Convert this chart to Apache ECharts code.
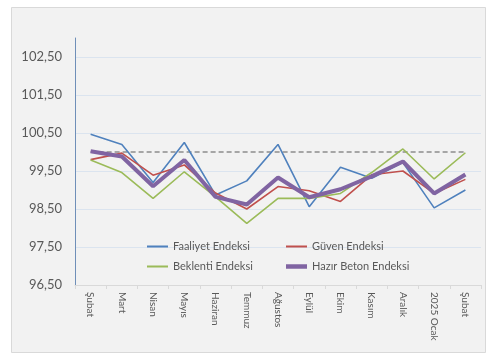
<!DOCTYPE html>
<html><head><meta charset="utf-8">
<script src="https://cdn.jsdelivr.net/npm/echarts@6/dist/echarts.min.js"></script>
<style>html,body{margin:0;padding:0;background:#fff}#c{width:500px;height:361px}</style>
</head><body><div id="c"></div>
<script>
var categories = ['Şubat','Mart','Nisan','Mayıs','Haziran','Temmuz','Ağustos','Eylül','Ekim','Kasım','Aralık','2025 Ocak','Şubat'];
var faaliyet = [100.47,100.20,99.20,100.25,98.87,99.24,100.20,98.56,99.60,99.31,99.72,98.53,99.00];
var guven    = [99.80,99.97,99.39,99.66,98.92,98.50,99.09,98.98,98.70,99.40,99.50,98.91,99.28];
var beklenti = [99.79,99.46,98.78,99.48,98.82,98.12,98.78,98.78,98.91,99.46,100.08,99.29,99.98];
var hazirBeton = [100.02,99.88,99.10,99.79,98.82,98.62,99.33,98.81,99.02,99.36,99.75,98.91,99.41];
var referans = [100,100,100,100,100,100,100,100,100,100,100,100,100];
var yMin = 96.5, yMax = 103, yStep = 1;

var font = 'Lato, "Open Sans", sans-serif';
var chart = echarts.init(document.getElementById('c'));
function fmt(v){ return v.toFixed(2).replace('.', ','); }
function leg(name, left, top, h){
  return {data:[name], icon:'rect', left:left, top:top, itemWidth:21, itemHeight:h, itemGap:0,
    textStyle:{fontFamily:font, fontSize:11, color:'#595959'}};
}
chart.setOption({
  animation: false,
  graphic: [{type:'rect', z:-10, shape:{x:11.5,y:7.5,width:474,height:345}, style:{fill:'#f2f2f2', stroke:'#d9d9d9', lineWidth:1}}],
  grid: {left:75, right:19, top:38, bottom:76},
  legend: [
    leg('Faaliyet Endeksi', 142, 236, 2),
    leg('Beklenti Endeksi', 142, 256, 2),
    leg('Güven Endeksi', 281, 236, 2),
    leg('Hazır Beton Endeksi', 281, 256, 4.5)
  ],
  xAxis: {
    type:'category', data:categories, boundaryGap:true,
    axisLine:{show:true, lineStyle:{color:'#d9d9d9'}},
    axisTick:{show:true, length:4, lineStyle:{color:'#d9d9d9'}},
    axisLabel:{rotate:-90, fontFamily:font, fontSize:10, color:'#595959', margin:7, interval:0}
  },
  yAxis: {
    type:'value', min:yMin, max:yMax, interval:yStep,
    axisLine:{show:true, lineStyle:{color:'#6f8fb8'}},
    axisTick:{show:false},
    splitLine:{show:true, showMaxLine:false, lineStyle:{color:'#dbe4ef'}},
    axisLabel:{showMaxLabel:false, fontFamily:font, fontSize:13, color:'#595959', margin:13, formatter:function(v){return fmt(v);}}
  },
  series: [
    {name:'Referans', type:'line', data:referans, symbol:'none', lineStyle:{color:'#a6a6a6', width:1.8, type:[5,3]}, z:1},
    {name:'Faaliyet Endeksi', type:'line', data:faaliyet, symbol:'none', color:'#4f81bd', lineStyle:{color:'#4f81bd', width:1.6}},
    {name:'Güven Endeksi', type:'line', data:guven, symbol:'none', color:'#c0504d', lineStyle:{color:'#c0504d', width:1.6}},
    {name:'Beklenti Endeksi', type:'line', data:beklenti, symbol:'none', color:'#9bbb59', lineStyle:{color:'#9bbb59', width:1.6}},
    {name:'Hazır Beton Endeksi', type:'line', data:hazirBeton, symbol:'none', color:'#8064a2', lineStyle:{color:'#8064a2', width:4}}
  ]
});
</script></body></html>
